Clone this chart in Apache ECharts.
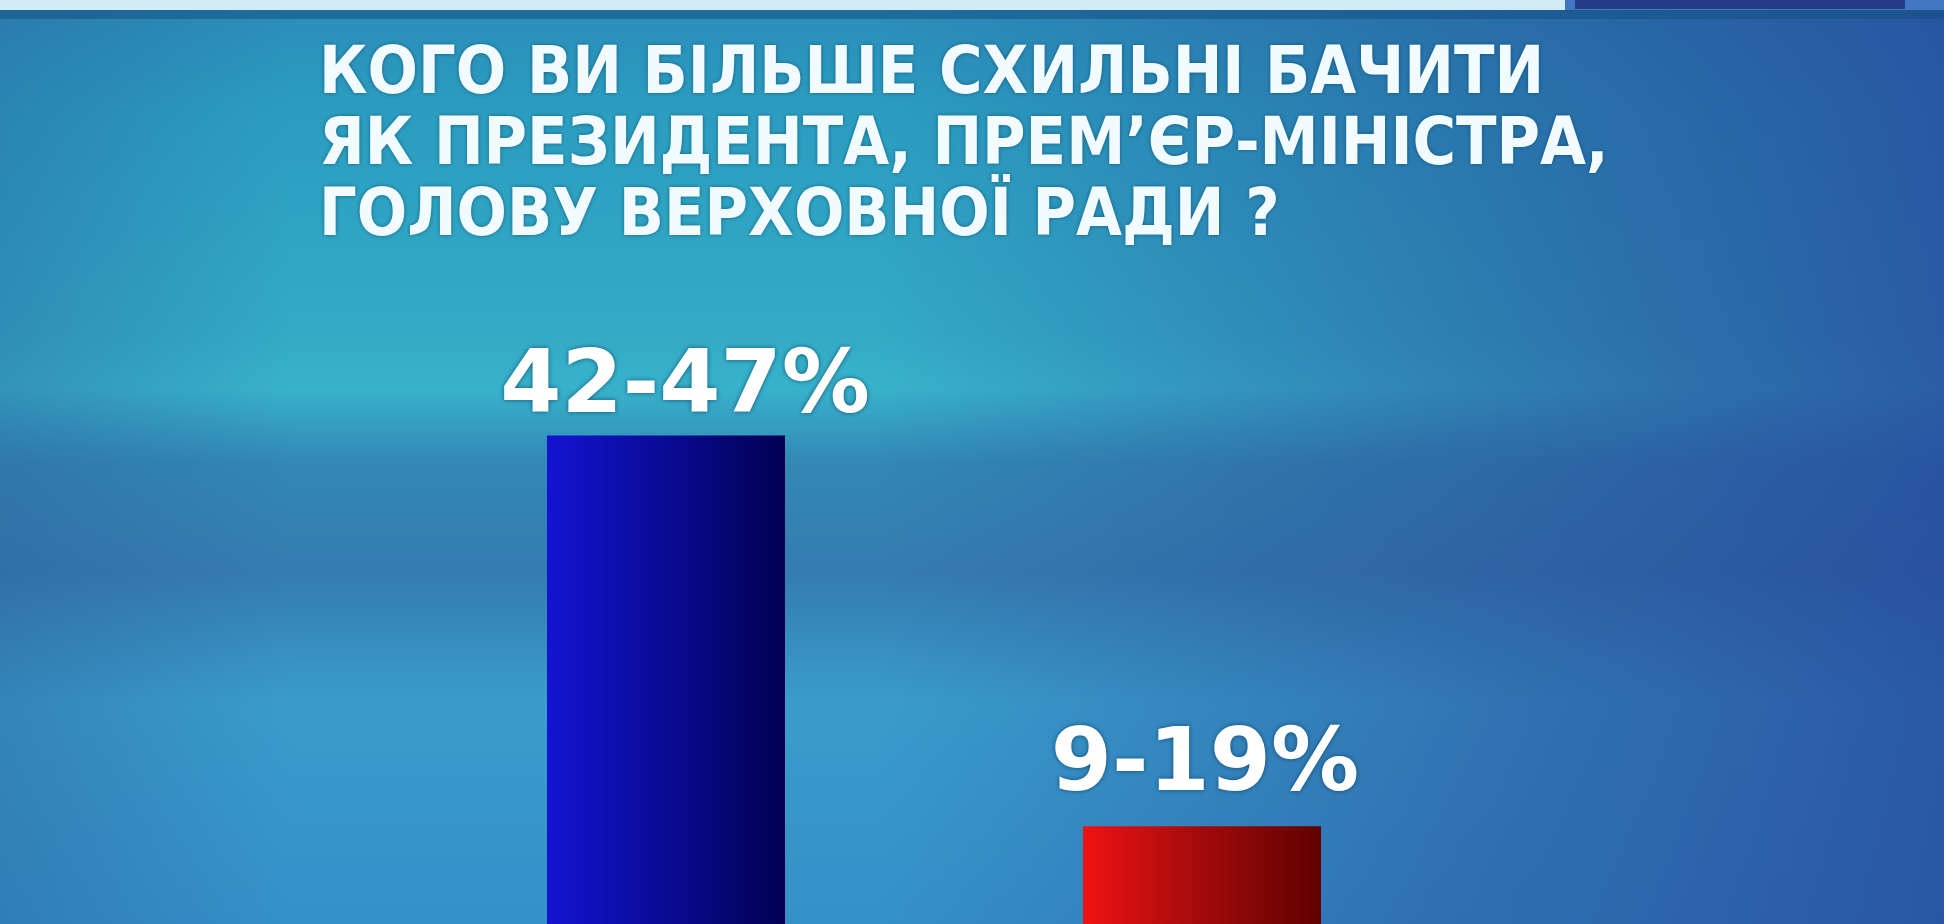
<!DOCTYPE html>
<html>
<head>
<meta charset="utf-8">
<script src="https://cdn.jsdelivr.net/npm/echarts@6/dist/echarts.min.js"></script>
<style>
  html, body { margin: 0; padding: 0; overflow: hidden; }
  #chart { width: 1944px; height: 924px; }
</style>
</head>
<body>
<div id="chart"></div>
<script>
// data
var categories = ['A', 'B'];
var lows = [42, 9];
var highs = [47, 19];
var titleLines = [
    'КОГО ВИ БІЛЬШЕ СХИЛЬНІ БАЧИТИ',
    'ЯК ПРЕЗИДЕНТА, ПРЕМ\u2019ЄР-МІНІСТРА,',
    'ГОЛОВУ ВЕРХОВНОЇ РАДИ ?'
];

var barColors = [
    ['#1414d2', '#0a0c9a', '#020052'],
    ['#f01212', '#a80c0c', '#600000']
];
// label nudges so text sits like in the picture
var labelDistance = [2, 15];
var labelOffsetX = [19, 3];

var dom = document.getElementById('chart');
var myChart = echarts.init(dom);

function grad(c) {
    return new echarts.graphic.LinearGradient(0, 0, 1, 0, [
        {offset: 0, color: c[0]},
        {offset: 0.45, color: c[1]},
        {offset: 1, color: c[2]}
    ]);
}

function band(y, h, color) {
    return {
        type: 'rect', z: 0, silent: true,
        shape: {x: 0, y: y, width: 1944, height: h},
        style: {fill: color}
    };
}

var option = {
    backgroundColor: new echarts.graphic.LinearGradient(0, 0, 0, 1, [
        {offset: 0, color: '#2b8cb8'},
        {offset: 0.12, color: '#2b9dc0'},
        {offset: 0.36, color: '#33aac6'},
        {offset: 0.42, color: '#38b2cc'},
        {offset: 0.5, color: '#3388b4'},
        {offset: 0.62, color: '#357cb0'},
        {offset: 0.76, color: '#3a9ccc'},
        {offset: 1, color: '#3590c8'}
    ]),
    animation: false,
    title: {
        text: titleLines.join('\n'),
        left: 314,
        top: 35,
        textStyle: {
            color: '#f2fbff',
            fontSize: 66,
            lineHeight: 71,
            fontWeight: 'bold',
            fontFamily: "'DejaVu Sans Condensed', 'DejaVu Sans', sans-serif",
            textShadowColor: 'rgba(0,60,90,0.6)',
            textShadowBlur: 4
        }
    },
    graphic: [
        // right side turns deeper blue
        {
            type: 'rect', z: 0, silent: true,
            shape: {x: 0, y: 0, width: 1944, height: 924},
            style: {
                fill: new echarts.graphic.LinearGradient(0, 0, 1, 0, [
                    {offset: 0, color: 'rgba(40,90,150,0.35)'},
                    {offset: 0.15, color: 'rgba(40,90,150,0)'},
                    {offset: 0.45, color: 'rgba(38,72,150,0)'},
                    {offset: 0.75, color: 'rgba(38,72,150,0.45)'},
                    {offset: 1, color: 'rgba(38,72,155,0.8)'}
                ])
            }
        },
        band(0, 10, '#d2ecf6'),
        band(10, 9, 'rgba(20,80,130,0.55)'),
        {
            type: 'rect', z: 0, silent: true,
            shape: {x: 1565, y: 0, width: 379, height: 10},
            style: {fill: '#3f78c0'}
        },
        {
            type: 'rect', z: 0, silent: true,
            shape: {x: 1575, y: 0, width: 330, height: 9},
            style: {fill: '#253d88'}
        }
    ],
    grid: {
        left: 398,
        right: 474,
        top: 3,
        bottom: -3
    },
    xAxis: {
        type: 'category',
        data: categories,
        show: false
    },
    yAxis: {
        type: 'value',
        min: 12,
        max: 78,
        show: false
    },
    series: [{
        type: 'bar',
        barWidth: 238,
        data: highs.map(function (v, i) {
            return {
                value: v,
                itemStyle: {color: grad(barColors[i])},
                label: {
                    distance: labelDistance[i],
                    offset: [labelOffsetX[i], 0]
                }
            };
        }),
        label: {
            show: true,
            position: 'top',
            color: '#ffffff',
            fontSize: 88,
            fontWeight: 'bold',
            fontFamily: "'DejaVu Sans', sans-serif",
            textShadowColor: 'rgba(0,50,80,0.7)',
            textShadowBlur: 5,
            formatter: function (p) {
                return lows[p.dataIndex] + '-' + highs[p.dataIndex] + '%';
            }
        }
    }]
};

if (option && typeof option === "object") {
    myChart.setOption(option, true);
}
</script>
</body>
</html>
